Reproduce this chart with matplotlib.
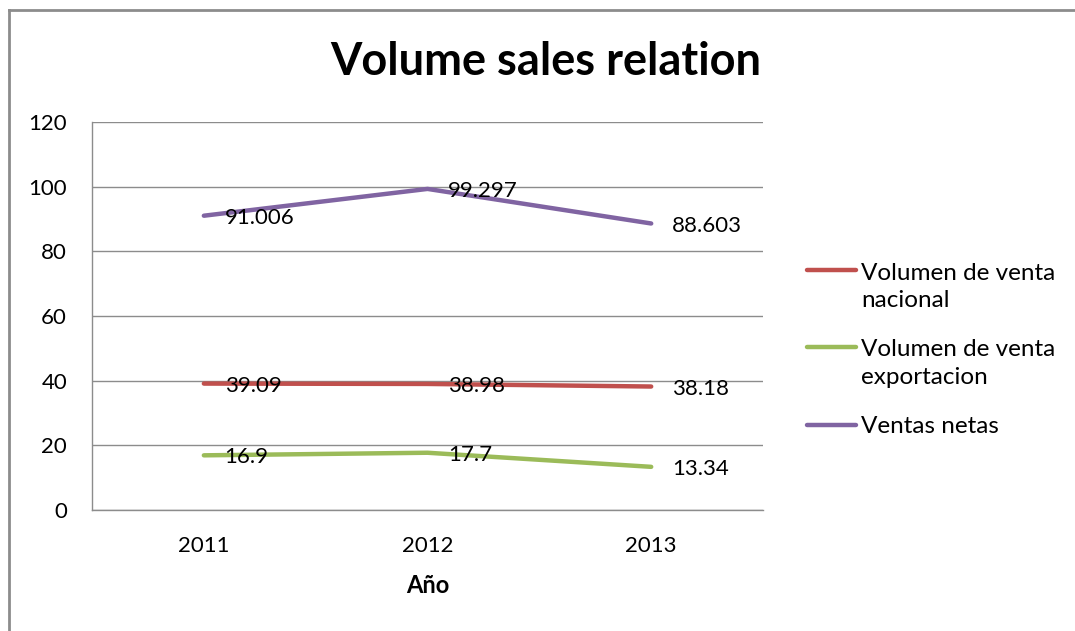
import numpy as np
import matplotlib
matplotlib.use("Agg")
import matplotlib.pyplot as plt
from matplotlib.lines import Line2D
from matplotlib.legend_handler import HandlerLine2D

# Data
years = ["2011", "2012", "2013"]
nacional = [39.09, 38.98, 38.18]
exportacion = [16.9, 17.7, 13.34]
netas = [91.006, 99.297, 88.603]
nacional_lbl = ["39.09", "38.98", "38.18"]
exportacion_lbl = ["16.9", "17.7", "13.34"]
netas_lbl = ["91.006", "99.297", "88.603"]

plt.rcParams['font.family'] = ['Lato', 'DejaVu Sans']

# Handler so the legend line sits next to the first text line (Excel style)
class FirstLineHandler(HandlerLine2D):
    def __init__(self, shift=0, **kw):
        super().__init__(**kw)
        self.shift = shift

    def create_artists(self, legend, orig_handle, xdescent, ydescent,
                       width, height, fontsize, trans):
        arts = super().create_artists(legend, orig_handle, xdescent, ydescent,
                                      width, height, fontsize, trans)
        for a in arts:
            a.set_ydata(np.asarray(a.get_ydata()) + self.shift)
        return arts

fig = plt.figure(figsize=(10.75, 6.31), dpi=100)
ax = fig.add_axes([0.0856, 0.1918, 0.6242, 0.6149])

x = np.arange(len(years))
series = [
    (nacional, nacional_lbl, "#C0504D", "Volumen de venta\nnacional"),
    (exportacion, exportacion_lbl, "#9BBB59", "Volumen de venta\nexportacion"),
    (netas, netas_lbl, "#8064A2", "Ventas netas"),
]
handles = []
for vals, lbls, col, name in series:
    h, = ax.plot(x, vals, color=col, lw=3.2, label=name, solid_capstyle='round')
    handles.append(h)
    for xi, v, t in zip(x, vals, lbls):
        ax.annotate(t, (xi, v), xytext=(15, -1.5), textcoords='offset points',
                    ha='left', va='center', fontsize=16, color='black')

ax.set_xlim(-0.5, 2.5)
ax.set_ylim(0, 120)
ax.set_yticks(range(0, 121, 20))
ax.set_xticks(x)
ax.set_xticklabels(years)
ax.tick_params(axis='both', length=0, labelsize=16)
ax.tick_params(axis='y', pad=18)
ax.tick_params(axis='x', pad=19)
ax.yaxis.grid(True, color='#8C8C8C', lw=1)
ax.set_axisbelow(True)
for s in ['top', 'right']:
    ax.spines[s].set_visible(False)
for s in ['left', 'bottom']:
    ax.spines[s].set_color('#8C8C8C')
    ax.spines[s].set_linewidth(1)

ax.set_xlabel("Año", fontsize=17, fontweight='bold', labelpad=13)
fig.suptitle("Volume sales relation", x=0.508, y=0.902, va='center',
             fontsize=32.5, fontweight='bold')

leg = fig.legend(handles, [h.get_label() for h in handles],
                 loc='upper left', bbox_to_anchor=(0.739, 0.603),
                 frameon=False, fontsize=17.5, handlelength=2.05,
                 handletextpad=0.2, borderpad=0, labelspacing=1.15,
                 handler_map={handles[0]: FirstLineHandler(shift=12),
                              handles[1]: FirstLineHandler(shift=12)})
for t in leg.get_texts():
    t.set_linespacing(1.4)

# outer chart border (cut off on right and bottom)
fig.add_artist(Line2D([0.0088, 0.0088], [-0.1, 0.984], color='#8C8C8C', lw=2,
                      transform=fig.transFigure))
fig.add_artist(Line2D([0.0088, 1.1], [0.984, 0.984], color='#8C8C8C', lw=2,
                      transform=fig.transFigure))

fig.savefig("out.png", dpi=100)
